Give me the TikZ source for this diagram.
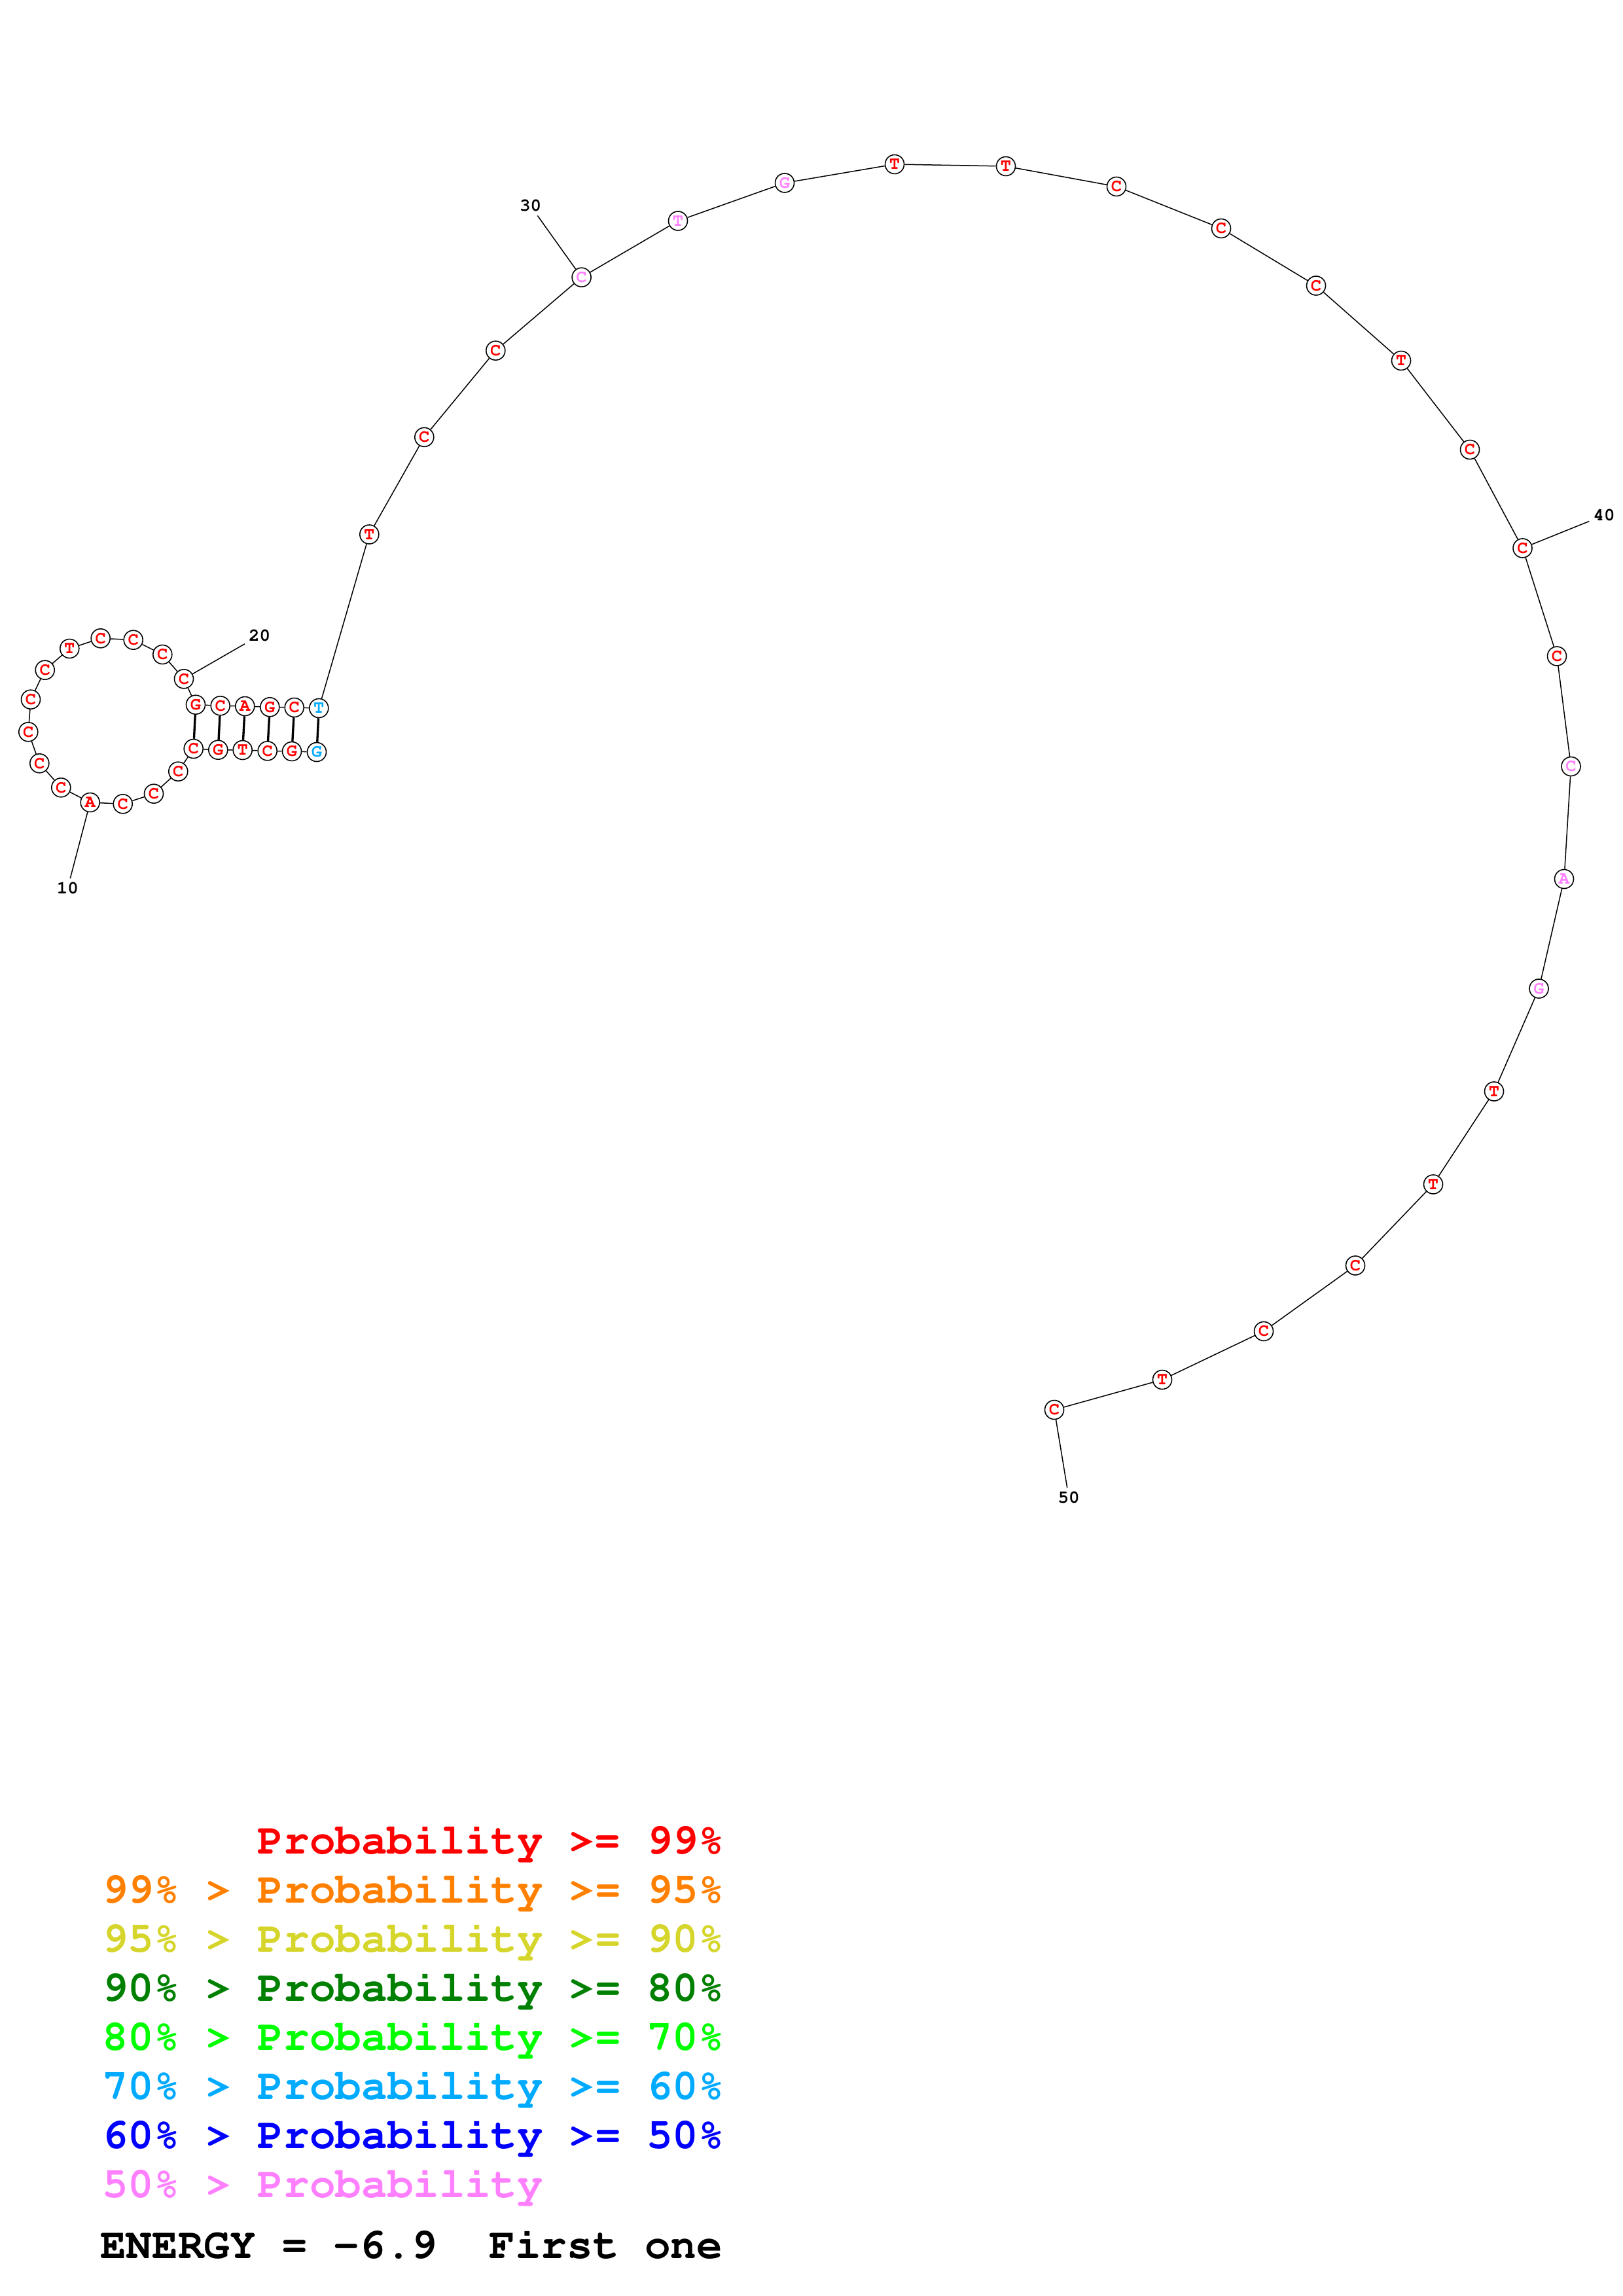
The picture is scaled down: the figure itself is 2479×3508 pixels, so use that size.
\documentclass[tikz,border=0pt]{standalone}
\usepackage[T1,TU]{fontenc}
\usepackage{tikz}

\newcommand{\courbf}{\fontencoding{T1}\fontfamily{pcr}\fontseries{b}\selectfont}

\definecolor{prob99}{RGB}{255,0,0}
\definecolor{prob95}{RGB}{255,128,0}
\definecolor{prob90}{RGB}{213,213,43}
\definecolor{prob80}{RGB}{0,128,0}
\definecolor{prob70}{RGB}{0,255,0}
\definecolor{prob60}{RGB}{0,170,255}
\definecolor{prob50}{RGB}{0,0,255}
\definecolor{problow}{RGB}{255,128,255}

\tikzset{
  nuc/.style={circle, draw, line width=0.38pt, fill=white, minimum size=6.96pt, inner sep=0pt,
    font=\courbf\fontsize{6.5}{6.5}\selectfont},
  backbone/.style={line width=0.36pt},
  bpair/.style={line width=0.8pt},
  numlabel/.style={inner sep=1.2pt, font=\courbf\fontsize{6.6}{6.6}\selectfont},
  legline/.style={anchor=base west, inner sep=0pt, font=\courbf\fontsize{15.85}{15.85}\selectfont}
}

\begin{document}
\begin{tikzpicture}[x=0.24pt, y=-0.24pt, semithick]
    \useasboundingbox (0,0) rectangle (2479,3508);

    \newcommand{\nucleo}[5]{
        \node[nuc, text=#5] (n#1) at (#2,#3) {#4};
    }

    % stem, 5' side and hairpin loop
    \nucleo{1}{484}{1149}{G}{prob60};
    \nucleo{2}{446}{1148}{G}{prob99};
    \nucleo{3}{408.7}{1147.3}{C}{prob99};
    \nucleo{4}{370.7}{1146}{T}{prob99};
    \nucleo{5}{333.3}{1145.7}{G}{prob99};
    \nucleo{6}{295.7}{1144}{C}{prob99};
    \nucleo{7}{272.3}{1178.7}{C}{prob99};
    \nucleo{8}{235}{1212.7}{C}{prob99};
    \nucleo{9}{187.7}{1228.3}{C}{prob99};
    \nucleo{10}{137.7}{1226}{A}{prob99};
    \nucleo{11}{93.3}{1203.3}{C}{prob99};
    \nucleo{12}{60.3}{1166.3}{C}{prob99};
    \nucleo{13}{43.3}{1118.3}{C}{prob99};
    \nucleo{14}{47}{1068.7}{C}{prob99};
    \nucleo{15}{68.7}{1023.7}{C}{prob99};
    \nucleo{16}{106.3}{991}{T}{prob99};
    \nucleo{17}{153.7}{975.3}{C}{prob99};
    \nucleo{18}{203.7}{977.7}{C}{prob99};
    \nucleo{19}{248.3}{1000}{C}{prob99};
    \nucleo{20}{281}{1037.3}{C}{prob99};
    \nucleo{21}{299}{1076.7}{G}{prob99};
    \nucleo{22}{336.7}{1078.3}{C}{prob99};
    \nucleo{23}{374.3}{1079}{A}{prob99};
    \nucleo{24}{412.3}{1080.3}{G}{prob99};
    \nucleo{25}{449.7}{1081}{C}{prob99};
    \nucleo{26}{487.3}{1082}{T}{prob60};

    % single strand, 3' side
    \nucleo{27}{564.3}{816.5}{T}{prob99};
    \nucleo{28}{648.3}{667.9}{C}{prob99};
    \nucleo{29}{757.3}{535.7}{C}{prob99};
    \nucleo{30}{888.6}{423.7}{C}{problow};
    \nucleo{31}{1036}{337.5}{T}{problow};
    \nucleo{32}{1199}{279.5}{G}{problow};
    \nucleo{33}{1367}{251}{T}{prob99};
    \nucleo{34}{1537}{254}{T}{prob99};
    \nucleo{35}{1706}{285}{C}{prob99};
    \nucleo{36}{1866}{349}{C}{prob99};
    \nucleo{37}{2011}{436.5}{C}{prob99};
    \nucleo{38}{2141}{551}{T}{prob99};
    \nucleo{39}{2246}{687}{C}{prob99};
    \nucleo{40}{2326.5}{837.5}{C}{prob99};
    \nucleo{41}{2379}{1002.5}{C}{prob99};
    \nucleo{42}{2400.5}{1171}{C}{problow};
    \nucleo{43}{2390}{1343}{A}{problow};
    \nucleo{44}{2351.5}{1510.5}{G}{problow};
    \nucleo{45}{2283}{1667.5}{T}{prob99};
    \nucleo{46}{2190}{1809.5}{T}{prob99};
    \nucleo{47}{2071}{1933.5}{C}{prob99};
    \nucleo{48}{1931}{2034}{C}{prob99};
    \nucleo{49}{1776}{2108}{T}{prob99};
    \nucleo{50}{1611}{2154}{C}{prob99};

    \draw[backbone] (n1) -- (n2) -- (n3) -- (n4) -- (n5) -- (n6) -- (n7) -- (n8) -- (n9) -- (n10)
        -- (n11) -- (n12) -- (n13) -- (n14) -- (n15) -- (n16) -- (n17) -- (n18) -- (n19) -- (n20)
        -- (n21) -- (n22) -- (n23) -- (n24) -- (n25) -- (n26) -- (n27) -- (n28) -- (n29) -- (n30)
        -- (n31) -- (n32) -- (n33) -- (n34) -- (n35) -- (n36) -- (n37) -- (n38) -- (n39) -- (n40)
        -- (n41) -- (n42) -- (n43) -- (n44) -- (n45) -- (n46) -- (n47) -- (n48) -- (n49) -- (n50);

    \draw[bpair] (n1) -- (n26);
    \draw[bpair] (n2) -- (n25);
    \draw[bpair] (n3) -- (n24);
    \draw[bpair] (n4) -- (n23);
    \draw[bpair] (n5) -- (n22);
    \draw[bpair] (n6) -- (n21);

    \node[numlabel] (lab10) at (103.3,1357.3) {10};
    \node[numlabel] (lab20) at (396.7,970.7) {20};
    \node[numlabel] (lab30) at (810.5,314.3) {30};
    \node[numlabel] (lab40) at (2451,787.3) {40};
    \node[numlabel] (lab50) at (1633.2,2288.3) {50};
    \draw[backbone] (n10) -- (lab10);
    \draw[backbone] (n20) -- (lab20);
    \draw[backbone] (n30) -- (lab30);
    \draw[backbone] (n40) -- (lab40);
    \draw[backbone] (n50) -- (lab50);

    % legend
    \node[legline, text=prob99] (leg99) at (392.6,2832) {Probability >= 99\%};
    \node[legline, text=prob95] (leg95) at (155,2907) {99\% > Probability >= 95\%};
    \node[legline, text=prob90] (leg90) at (155,2982) {95\% > Probability >= 90\%};
    \node[legline, text=prob80] (leg80) at (155,3057) {90\% > Probability >= 80\%};
    \node[legline, text=prob70] (leg70) at (155,3132) {80\% > Probability >= 70\%};
    \node[legline, text=prob60] (leg60) at (155,3207) {70\% > Probability >= 60\%};
    \node[legline, text=prob50] (leg50) at (155,3282) {60\% > Probability >= 50\%};
    \node[legline, text=problow] (leglow) at (155,3357) {50\% > Probability};
    \node[legline] (energy) at (152,3450) {ENERGY = -6.9\ \ First one};
\end{tikzpicture}
\end{document}
